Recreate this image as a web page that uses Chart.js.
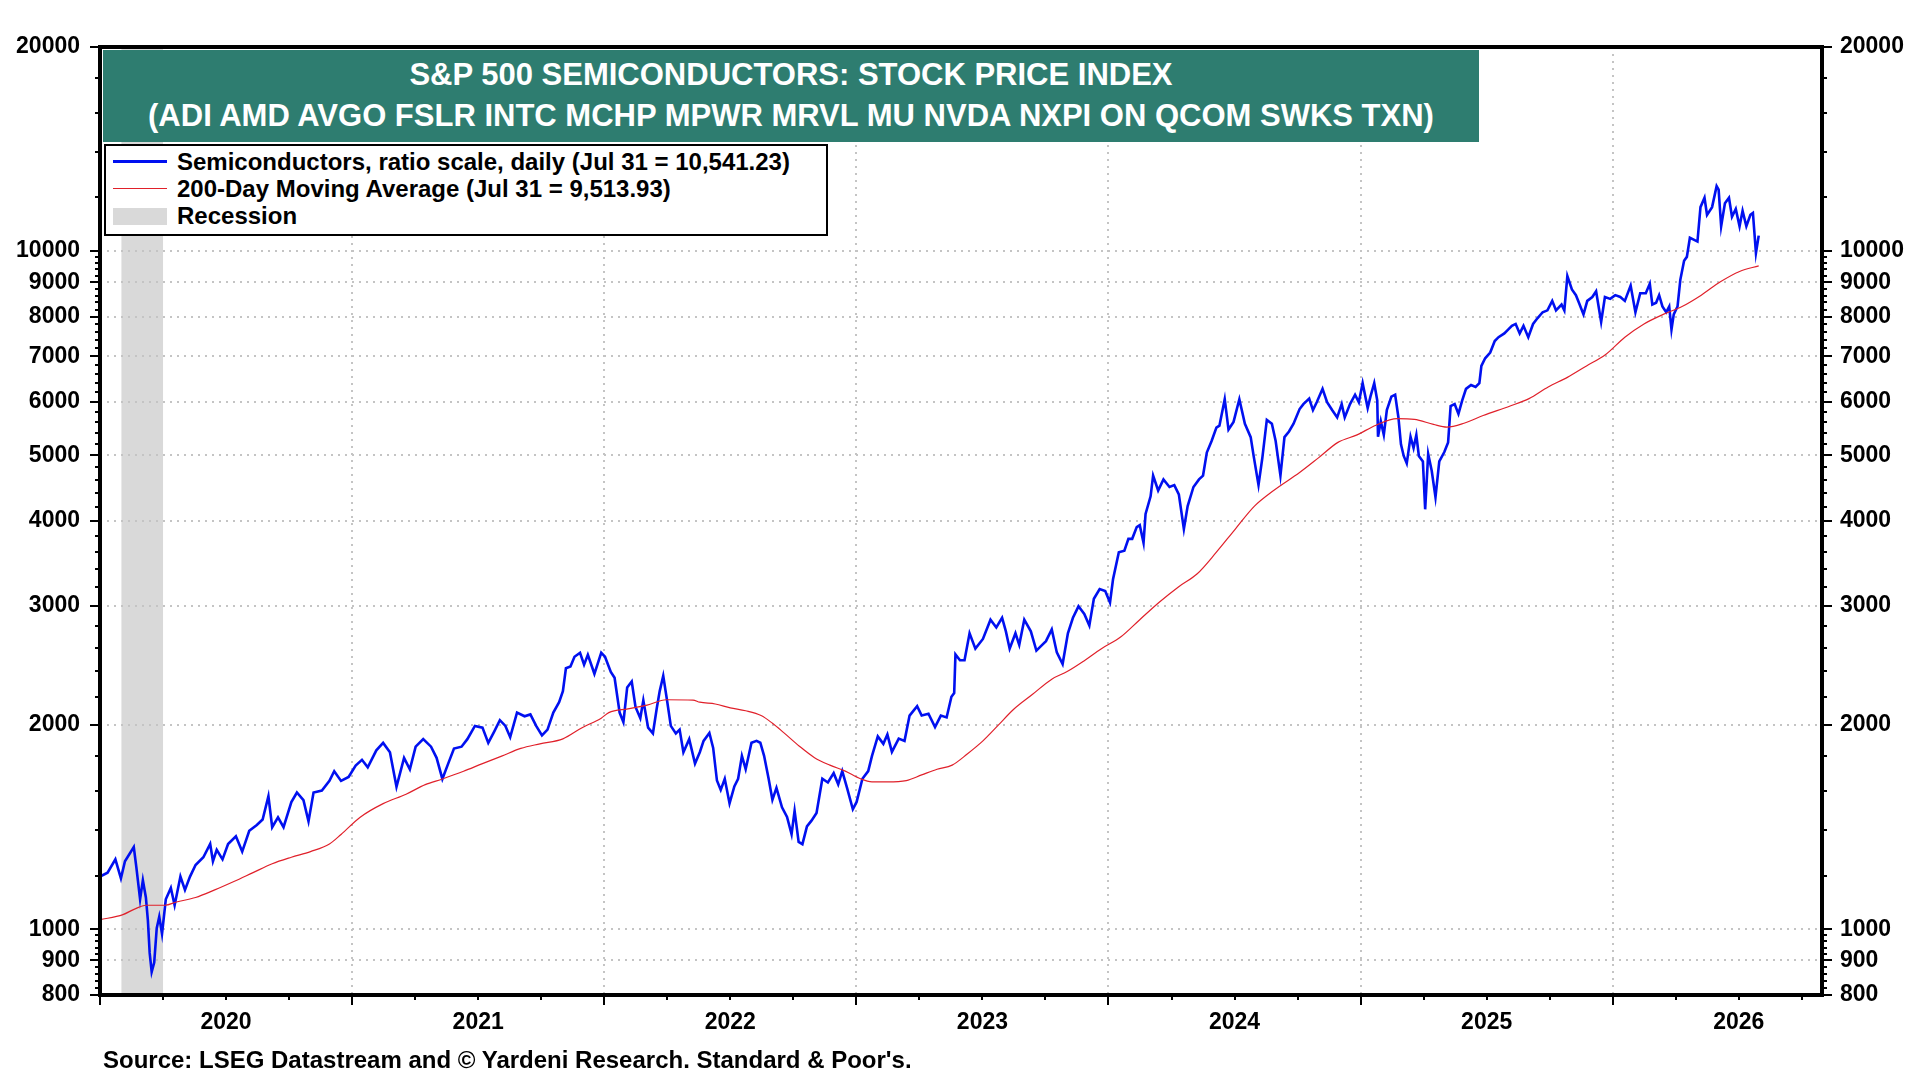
<!DOCTYPE html>
<html>
<head>
<meta charset="utf-8">
<title>S&amp;P 500 Semiconductors: Stock Price Index</title>
<script src="https://cdn.jsdelivr.net/npm/chart.js@4.4.1/dist/chart.umd.min.js"></script>
<style>
  body { margin: 0; background: #fff; font-family: "Liberation Sans", Arial, sans-serif; }
  #wrap { position: relative; width: 1920px; height: 1080px; overflow: hidden; }
  #chart { position: absolute; left: 0; top: 0; }
  .title-box { position: absolute; left: 103px; top: 50px; width: 1376px; height: 92px;
    background: #2e7d70; color: #fff; font-weight: bold; font-size: 31px; text-align: center; }
  .title-box div { position: absolute; left: 0; right: 0; line-height: 34px; white-space: nowrap; }
  .legend-box { position: absolute; left: 104px; top: 144px; width: 724px; height: 92px;
    box-sizing: border-box; border: 2px solid #000; background: #fff; }
  .legend-box .txt { position: absolute; left: 71px; line-height: 26px; font-size: 24px; font-weight: bold;
    color: #000; white-space: nowrap; }
  .legend-box .swatch { position: absolute; left: 7px; width: 54px; }
  .source { position: absolute; left: 103px; top: 1046px; font-size: 24px; font-weight: bold;
    line-height: 28px; color: #000; white-space: nowrap; }
</style>
</head>
<body>
<div id="wrap">
  <canvas id="chart" width="1920" height="1080"></canvas>
  <div class="title-box">
    <div style="top:8px">S&amp;P 500 SEMICONDUCTORS: STOCK PRICE INDEX</div>
    <div style="top:49px">(ADI AMD AVGO FSLR INTC MCHP MPWR MRVL MU NVDA NXPI ON QCOM SWKS TXN)</div>
  </div>
  <div class="legend-box">
    <div class="swatch" style="top:14px;height:3px;background:#0010f0"></div>
    <div class="txt" style="top:3px">Semiconductors, ratio scale, daily (Jul 31 = 10,541.23)</div>
    <div class="swatch" style="top:42px;height:1px;background:#e0202a"></div>
    <div class="txt" style="top:30px">200-Day Moving Average (Jul 31 = 9,513.93)</div>
    <div class="swatch" style="top:62px;height:17px;background:#d9d9d9"></div>
    <div class="txt" style="top:57px">Recession</div>
  </div>
  <div class="source">Source: LSEG Datastream and &copy; Yardeni Research. Standard &amp; Poor's.</div>
</div>
<script>
// x values are decimal years
var semiDates = [
  2020.000,2020.030,2020.061,2020.083,2020.099,2020.134,2020.144,2020.159,2020.170,2020.182,
  2020.190,2020.197,2020.205,2020.215,2020.225,2020.235,2020.246,2020.261,2020.281,2020.296,
  2020.319,2020.337,2020.357,2020.379,2020.410,2020.437,2020.448,2020.463,2020.486,2020.508,
  2020.539,2020.564,2020.592,2020.622,2020.645,2020.668,2020.683,2020.706,2020.728,2020.759,
  2020.781,2020.807,2020.827,2020.847,2020.880,2020.910,2020.929,2020.956,2020.986,
  2021.014,2021.039,2021.062,2021.096,2021.123,2021.150,2021.176,2021.206,2021.229,2021.252,
  2021.282,2021.313,2021.335,2021.358,2021.381,2021.404,2021.434,2021.457,2021.487,2021.517,
  2021.540,2021.563,2021.586,2021.608,2021.627,2021.654,2021.684,2021.707,2021.730,2021.753,
  2021.775,2021.798,2021.821,2021.836,2021.848,2021.866,2021.882,2021.904,2021.920,2021.935,
  2021.961,2021.988,
  2022.003,2022.026,2022.041,2022.061,2022.076,2022.091,2022.109,2022.124,2022.143,2022.155,
  2022.174,2022.193,2022.208,2022.220,2022.234,2022.249,2022.264,2022.284,2022.299,2022.314,
  2022.337,2022.360,2022.379,2022.394,2022.417,2022.432,2022.447,2022.462,2022.478,2022.497,
  2022.516,2022.531,2022.546,2022.561,2022.584,2022.604,2022.619,2022.634,2022.652,2022.667,
  2022.683,2022.705,2022.725,2022.743,2022.755,2022.771,2022.786,2022.804,2022.822,2022.842,
  2022.865,2022.887,2022.910,2022.928,2022.944,2022.963,2022.986,
  2023.001,2023.024,2023.047,2023.062,2023.085,2023.107,2023.123,2023.141,2023.168,2023.191,
  2023.211,2023.241,2023.259,2023.286,2023.312,2023.335,2023.358,2023.377,2023.388,2023.393,
  2023.411,2023.429,2023.449,2023.472,2023.502,2023.532,2023.555,2023.578,2023.593,2023.608,
  2023.631,2023.646,2023.666,2023.692,2023.714,2023.737,2023.752,2023.775,2023.795,2023.818,
  2023.839,2023.859,2023.881,2023.904,2023.924,2023.942,2023.965,2023.987,
  2024.006,2024.018,2024.041,2024.063,2024.079,2024.094,2024.112,2024.124,2024.139,2024.147,
  2024.167,2024.177,2024.197,2024.218,2024.242,2024.261,2024.279,2024.299,2024.314,2024.337,
  2024.359,2024.375,2024.390,2024.409,2024.428,2024.440,2024.461,2024.476,2024.496,2024.519,
  2024.541,2024.564,2024.576,2024.595,2024.610,2024.628,2024.648,2024.663,2024.682,2024.698,
  2024.716,2024.734,2024.758,2024.773,2024.796,2024.811,2024.826,2024.849,2024.867,2024.887,
  2024.907,2024.925,2024.937,2024.958,2024.978,2024.993,
  2025.008,2025.028,2025.039,2025.054,2025.066,2025.069,2025.080,2025.092,2025.104,2025.122,
  2025.137,2025.150,2025.160,2025.171,2025.183,2025.198,2025.210,2025.221,2025.231,2025.247,
  2025.256,2025.268,2025.282,2025.297,2025.312,2025.332,2025.347,2025.357,2025.373,2025.388,
  2025.403,2025.418,2025.438,2025.456,2025.471,2025.479,2025.494,2025.514,2025.532,2025.547,
  2025.570,2025.585,2025.600,2025.615,2025.631,2025.646,2025.665,2025.684,2025.702,2025.722,
  2025.741,2025.760,2025.775,2025.797,2025.808,2025.820,2025.838,2025.854,2025.866,2025.884,
  2025.899,2025.919,2025.934,2025.954,2025.969,2025.990,
  2026.010,2026.030,2026.048,2026.071,2026.090,2026.109,2026.131,2026.147,2026.157,2026.172,
  2026.184,2026.197,2026.212,2026.224,2026.233,2026.242,2026.257,2026.268,2026.283,2026.294,
  2026.306,2026.321,2026.336,2026.348,2026.364,2026.374,2026.394,2026.412,2026.420,2026.430,
  2026.445,2026.461,2026.473,2026.488,2026.503,2026.515,2026.530,2026.546,2026.556,2026.568,
  2026.579
];
var semiValues = [
  1196,1212,1268,1189,1260,1322,1236,1107,1181,1114,
  1030,923,865,893,1004,1044,985,1107,1151,1085,
  1196,1143,1196,1244,1277,1336,1260,1310,1268,1336,
  1371,1302,1397,1425,1452,1571,1414,1462,1414,1540,
  1591,1550,1443,1591,1602,1655,1710,1655,1677,
  1744,1778,1733,1836,1883,1824,1622,1790,1722,1859,
  1907,1859,1790,1666,1755,1847,1859,1907,1995,1983,
  1883,1955,2034,1995,1920,2087,2061,2074,1995,1932,
  1970,2087,2162,2245,2426,2441,2523,2557,2456,2540,
  2381,2557,
  2523,2396,2349,2087,2021,2273,2319,2127,2048,2176,
  1983,1945,2114,2245,2365,2176,1995,1945,1970,1824,
  1907,1755,1824,1896,1948,1851,1657,1605,1667,1533,
  1624,1667,1802,1722,1884,1896,1884,1802,1667,1552,
  1616,1513,1464,1381,1495,1345,1335,1418,1446,1484,
  1667,1646,1699,1636,1711,1616,1503,
  1541,1667,1711,1802,1925,1877,1937,1826,1911,1896,
  2066,2133,2066,2079,1987,2066,2053,2202,2230,2543,
  2493,2493,2732,2593,2680,2861,2787,2880,2750,2593,
  2732,2627,2861,2750,2576,2627,2660,2768,2560,2461,
  2732,2880,2994,2917,2805,3072,3174,3153,
  3033,3282,3598,3616,3765,3765,3918,3944,3715,4097,
  4350,4667,4436,4607,4490,4519,4378,3892,4207,4490,
  4607,4667,5047,5248,5493,5529,6049,5456,5601,6049,
  5565,5318,4981,4519,4949,5637,5565,5248,4667,5318,
  5420,5565,5850,5949,6061,5830,5987,6265,5987,5830,
  5685,5949,5685,5949,6142,5987,
  6387,5871,6103,6387,6024,5325,5613,5359,5830,6103,
  6142,5685,5190,4989,4865,5325,5125,5359,4989,4896,
  4162,5022,4745,4337,4896,5055,5224,5910,5949,5754,
  6024,6265,6347,6306,6387,6772,6950,7086,7370,7466,
  7563,7660,7759,7810,7563,7759,7466,7810,7967,8126,
  8179,8446,8179,8340,8179,9190,8782,8612,8394,8067,
  8446,8558,8725,7862,8558,8503,
  8612,8558,8446,8898,8126,8669,8669,8955,8340,8394,
  8612,8287,8126,8287,7660,8067,8287,9071,9681,9807,
  10465,10398,10330,11612,11990,11310,11612,12470,12320,10882,
  11766,11990,11238,11540,10882,11466,10882,11310,11384,9935,
  10541.23
];

var maDates = [
  2020.000,2020.091,2020.137,2020.182,2020.258,2020.303,2020.379,2020.455,2020.531,2020.607,
  2020.683,2020.759,2020.835,2020.910,2020.956,2021.032,2021.123,2021.214,2021.290,2021.358,
  2021.442,2021.517,2021.593,2021.669,2021.745,2021.836,2021.912,2021.988,2022.018,2022.094,
  2022.170,2022.246,2022.352,2022.379,2022.440,2022.500,2022.561,2022.622,2022.667,2022.713,
  2022.774,2022.834,2022.895,2022.956,2023.016,2023.062,2023.123,2023.198,2023.259,2023.320,
  2023.380,2023.441,2023.502,2023.563,2023.623,2023.699,2023.775,2023.836,2023.896,2023.972,
  2024.048,2024.124,2024.200,2024.276,2024.352,2024.428,2024.503,2024.579,2024.655,2024.758,
  2024.834,2024.910,2024.986,2025.061,2025.145,2025.213,2025.289,2025.342,2025.410,2025.486,
  2025.593,2025.668,2025.744,2025.820,2025.896,2025.972,2026.048,2026.124,2026.200,2026.275,
  2026.351,2026.427,2026.503,2026.579
];
var maValues = [
  1033,1051,1071,1085,1085,1097,1114,1143,1176,1212,
  1249,1277,1302,1336,1380,1463,1532,1582,1634,1666,
  1710,1755,1800,1848,1877,1909,1983,2048,2087,2114,
  2141,2180,2178,2162,2149,2121,2100,2066,2013,1948,
  1862,1791,1746,1711,1667,1650,1650,1657,1689,1722,
  1746,1815,1896,2000,2109,2221,2338,2399,2478,2593,
  2697,2861,3033,3195,3344,3598,3892,4207,4436,4715,
  4960,5224,5359,5538,5661,5647,5553,5503,5575,5722,
  5910,6061,6306,6514,6772,7040,7466,7810,8067,8287,
  8612,9012,9334,9513.93
];

var recessions = [[2020.085, 2020.25]];
var years = [2020, 2021, 2022, 2023, 2024, 2025, 2026];
var yTickLabels = [800, 900, 1000, 2000, 3000, 4000, 5000, 6000, 7000, 8000, 9000, 10000, 20000];

var xMin = 2020, xMax = 2026.83;
var gridGrey = '#c4c4c4';
var tickFont = { family: 'Liberation Sans, Arial, sans-serif', size: 23, weight: 'bold' };

// quarterly ticks, year label sits on the mid-year tick
var quarterTicks = [];
years.forEach(function (y) {
  [0, 0.25, 0.5, 0.75].forEach(function (q) { quarterTicks.push(y + q); });
});
function isYearStart(v) { return Math.abs(v - Math.round(v)) < 1e-6; }
function isMidYear(v) { return Math.abs(v - Math.floor(v) - 0.5) < 1e-6; }

// minor y ticks: 4 between each pair of labelled ticks
var yAllTicks = [];
yTickLabels.forEach(function (v, i) {
  yAllTicks.push(v);
  var next = yTickLabels[i + 1];
  if (next) {
    var step = (next - v) / 5;
    for (var k = 1; k < 5; k++) yAllTicks.push(v + step * k);
  }
});

function points(xs, ys) {
  return xs.map(function (x, i) { return { x: x, y: ys[i] }; });
}

function yScale(pos) {
  return {
    type: 'logarithmic',
    position: pos,
    min: 800,
    max: 20000,
    afterBuildTicks: function (s) { s.ticks = yAllTicks.map(function (v) { return { value: v }; }); },
    afterFit: function (s) { s.width = pos === 'left' ? 100 : 98; },
    ticks: {
      autoSkip: false,
      padding: pos === 'left' ? 20 : 18,
      color: '#000',
      font: tickFont,
      callback: function (v) { return yTickLabels.indexOf(v) >= 0 ? String(v) : ''; }
    },
    grid: {
      display: pos === 'left',
      drawTicks: false,
      lineWidth: 2,
      color: function (c) {
        var v = c.tick && c.tick.value;
        return (yTickLabels.indexOf(v) >= 0 && v !== 800 && v !== 20000) ? gridGrey : 'rgba(0,0,0,0)';
      }
    },
    border: { display: false, dash: [2, 5] }
  };
}

// recession band, frame and tick marks
var decor = {
  id: 'decor',
  beforeDraw: function (chart) {
    var ctx = chart.ctx, a = chart.chartArea, x = chart.scales.x;
    ctx.save();
    ctx.fillStyle = '#d9d9d9';
    recessions.forEach(function (r) {
      var x0 = x.getPixelForValue(r[0]), x1 = x.getPixelForValue(r[1]);
      ctx.fillRect(x0, a.top, x1 - x0, a.bottom - a.top);
    });
    ctx.restore();
  },
  afterDatasetsDraw: function (chart) {
    var ctx = chart.ctx, a = chart.chartArea, x = chart.scales.x, y = chart.scales.y;
    ctx.save();
    ctx.strokeStyle = '#000';
    ctx.lineWidth = 2;
    ctx.beginPath();
    quarterTicks.forEach(function (v) {
      var px = Math.round(x.getPixelForValue(v));
      var len = isYearStart(v) ? 10 : 5;
      ctx.moveTo(px, a.bottom);
      ctx.lineTo(px, a.bottom + len);
    });
    yAllTicks.forEach(function (v) {
      var py = Math.round(y.getPixelForValue(v));
      var len = yTickLabels.indexOf(v) >= 0 ? 10 : 5;
      ctx.moveTo(a.left - len, py);
      ctx.lineTo(a.left, py);
      ctx.moveTo(a.right, py);
      ctx.lineTo(a.right + len, py);
    });
    ctx.stroke();
    ctx.lineWidth = 4;
    ctx.strokeRect(a.left, a.top, a.right - a.left, a.bottom - a.top);
    ctx.restore();
  }
};

var ctx = document.getElementById('chart').getContext('2d');
var chart = new Chart(ctx, {
  type: 'line',
  data: {
    datasets: [
      {
        label: 'Semiconductors',
        data: points(semiDates, semiValues),
        borderColor: '#0010f0',
        borderWidth: 2.6,
        pointRadius: 0,
        tension: 0,
        order: 1
      },
      {
        label: '200-Day Moving Average',
        data: points(maDates, maValues),
        borderColor: '#e0202a',
        borderWidth: 1.2,
        pointRadius: 0,
        cubicInterpolationMode: 'monotone',
        order: 0
      }
    ]
  },
  options: {
    responsive: false,
    animation: false,
    devicePixelRatio: 1,
    layout: { padding: { top: 47, left: 0, right: 0, bottom: 0 } },
    plugins: {
      legend: { display: false },
      tooltip: { enabled: false },
      title: { display: false }
    },
    scales: {
      x: {
        type: 'linear',
        position: 'bottom',
        min: xMin,
        max: xMax,
        afterBuildTicks: function (s) { s.ticks = quarterTicks.map(function (v) { return { value: v }; }); },
        afterFit: function (s) { s.height = 85; },
        ticks: {
          autoSkip: false,
          maxRotation: 0,
          padding: 14,
          color: '#000',
          font: tickFont,
          callback: function (v) { return isMidYear(v) ? String(Math.floor(v)) : ''; }
        },
        grid: {
          drawTicks: false,
          lineWidth: 2,
          color: function (c) {
            var v = c.tick && c.tick.value;
            return (isYearStart(v) && v > xMin) ? gridGrey : 'rgba(0,0,0,0)';
          }
        },
        border: { display: false, dash: [2, 5] }
      },
      y: yScale('left'),
      y2: yScale('right')
    }
  },
  plugins: [decor]
});
</script>
</body>
</html>
